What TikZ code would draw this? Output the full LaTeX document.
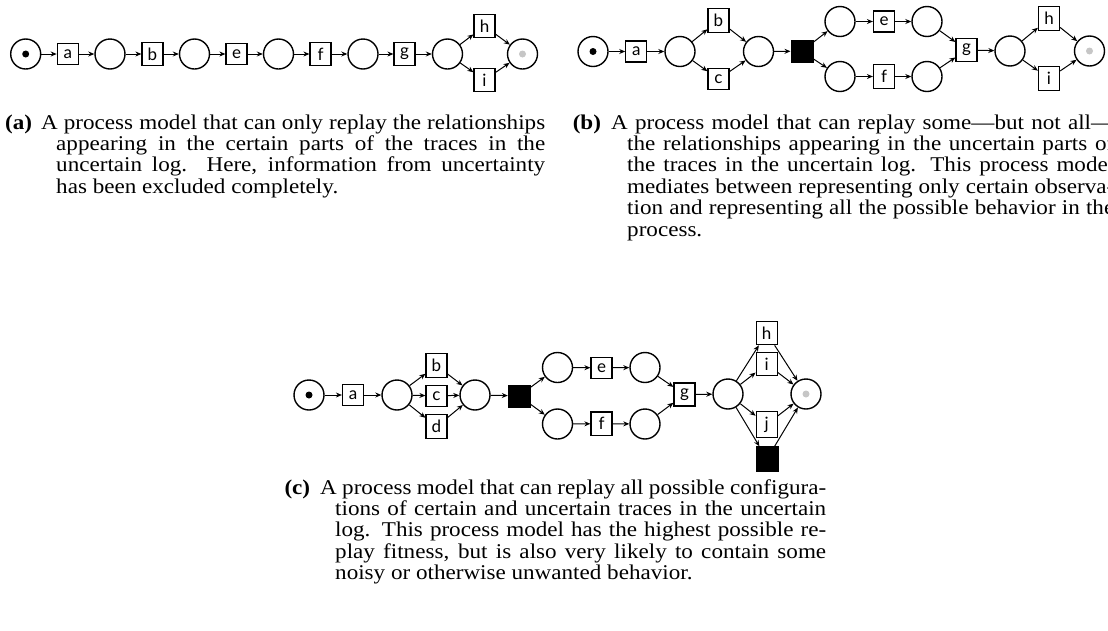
\documentclass[tikz,border=0pt]{standalone}
\usepackage{fontspec}
\setmainfont[FakeStretch=1.1]{Liberation Serif}
\setsansfont{Lato}
\usetikzlibrary{arrows.meta}

\begin{document}
\begin{tikzpicture}[x=1pt,y=-1pt,
  place/.style={circle,draw,line width=1.4pt,minimum size=30pt,inner sep=0pt},
  trans/.style={rectangle,draw,line width=1.2pt,inner sep=5.5pt,minimum size=21pt,
    font=\sffamily\fontsize{17}{17}\selectfont},
  silent/.style={rectangle,draw,fill=black,minimum size=22pt,inner sep=0pt},
  arc/.style={->,>={Stealth[length=6pt,width=5pt]},line width=1pt},
  capt/.style={anchor=base west,inner sep=0pt,text width=#1,align=justify,
    font=\fontsize{21}{21.4}\selectfont},
  captlbl/.style={anchor=base west,inner sep=0pt,font=\fontsize{21}{21.4}\selectfont\bfseries}]
  \useasboundingbox (0,0) rectangle (1108,630);
  \clip (0,0) rectangle (1108,630);

  % (a) only certain parts
  \node[place] (pa0) at (25.7,54) {};
  \node[trans] (ta) at (67.8,54) {a};
  \node[place] (pa1) at (110,54) {};
  \node[trans] (tb) at (152.5,54) {b};
  \node[place] (pa2) at (194.5,54) {};
  \node[trans] (te) at (236.5,54) {e};
  \node[place] (pa3) at (278.5,54) {};
  \node[trans] (tf) at (320.5,54) {f};
  \node[place] (pa4) at (363,54) {};
  \node[trans] (tg) at (404.5,54) {g};
  \node[place] (pa5) at (447.5,54) {};
  \node[trans] (th) at (484.5,26) {h};
  \node[trans] (ti) at (484.5,80) {i};
  \node[place] (pa6) at (522.5,54) {};
  \fill (pa0) circle (3.5pt);
  \fill[gray!45] (pa6) circle (3.5pt);
  \foreach \u/\v in {pa0/ta,ta/pa1,pa1/tb,tb/pa2,pa2/te,te/pa3,pa3/tf,tf/pa4,
                     pa4/tg,tg/pa5,pa5/th,pa5/ti,th/pa6,ti/pa6}
    \draw[arc] (\u) -- (\v);

  % (b) some of the uncertain parts
  \node[place] (pb0) at (593,51.5) {};
  \node[trans] (tba) at (636.3,51.5) {a};
  \node[place] (pb1) at (680,51.5) {};
  \node[trans] (tbb) at (718.5,20.3) {b};
  \node[trans] (tbc) at (718.5,79.2) {c};
  \node[place] (pb2) at (758.5,51.5) {};
  \node[silent] (tbs) at (801.7,51.2) {};
  \node[place] (pb3) at (840,21.5) {};
  \node[place] (pb4) at (840,76.5) {};
  \node[trans] (tbe) at (884,21.5) {e};
  \node[trans] (tbf) at (884,76.5) {f};
  \node[place] (pb5) at (927,21.5) {};
  \node[place] (pb6) at (927,76.5) {};
  \node[trans] (tbg) at (966.5,50) {g};
  \node[place] (pb7) at (1010,51) {};
  \node[trans] (tbh) at (1049,18.5) {h};
  \node[trans] (tbi) at (1049,78.5) {i};
  \node[place] (pb8) at (1089.5,51) {};
  \fill (pb0) circle (3.5pt);
  \fill[gray!45] (pb8) circle (3.5pt);
  \foreach \u/\v in {pb0/tba,tba/pb1,pb1/tbb,pb1/tbc,tbb/pb2,tbc/pb2,pb2/tbs,
                     tbs/pb3,tbs/pb4,pb3/tbe,pb4/tbf,tbe/pb5,tbf/pb6,pb5/tbg,
                     pb6/tbg,tbg/pb7,pb7/tbh,pb7/tbi,tbh/pb8,tbi/pb8}
    \draw[arc] (\u) -- (\v);

  % (c) all possible configurations
  \node[place] (pc0) at (309,395) {};
  \node[trans] (tca) at (353,395) {a};
  \node[place] (pc1) at (397,395) {};
  \node[trans] (tcb) at (436.5,365.5) {b};
  \node[trans] (tcc) at (436.5,395.8) {c};
  \node[trans] (tcd) at (436.5,426.7) {d};
  \node[place] (pc2) at (475,395) {};
  \node[silent] (tcs) at (519,395.8) {};
  \node[place] (pc3) at (557.5,367.5) {};
  \node[place] (pc4) at (557.5,424) {};
  \node[trans] (tce) at (601.5,367.8) {e};
  \node[trans] (tcf) at (601.5,423.7) {f};
  \node[place] (pc5) at (645,367.5) {};
  \node[place] (pc6) at (645,424) {};
  \node[trans] (tcg) at (684.5,394.5) {g};
  \node[place] (pc7) at (728,394) {};
  \node[trans] (tch) at (766.7,333) {h};
  \node[trans] (tci) at (766.7,364) {i};
  \node[trans] (tcj) at (766.7,424.5) {j};
  \node[silent,minimum height=25pt] (tct) at (767,459) {};
  \node[place] (pc8) at (806,394) {};
  \fill (pc0) circle (3.5pt);
  \fill[gray!45] (pc8) circle (3.5pt);
  \foreach \u/\v in {pc0/tca,tca/pc1,pc1/tcb,pc1/tcc,pc1/tcd,tcb/pc2,tcc/pc2,
                     tcd/pc2,pc2/tcs,tcs/pc3,tcs/pc4,pc3/tce,pc4/tcf,tce/pc5,
                     tcf/pc6,pc5/tcg,pc6/tcg,tcg/pc7,pc7/tch,pc7/tci,pc7/tcj,
                     pc7/tct,tch/pc8,tci/pc8,tcj/pc8,tct/pc8}
    \draw[arc] (\u) -- (\v);

  % captions
  \node[captlbl] (lbla) at (5,129) {(a)};
  \node[capt=489pt] (capa) at (56,129) {\hspace*{-15pt}A process model that can only replay the relationships\linebreak
    appearing in the certain parts of the traces in the\linebreak
    uncertain log. Here, information from uncertainty\linebreak
    has been excluded completely.};
  \node[captlbl] (lblb) at (572.6,129) {(b)};
  \node[capt=487pt] (capb) at (627,129) {\hspace*{-16pt}A process model that can replay some---but not all---\linebreak
    the relationships appearing in the uncertain parts of\linebreak
    the traces in the uncertain log. This process model\linebreak
    mediates between representing only certain observa-\linebreak
    tion and representing all the possible behavior in the\linebreak
    process.};
  \node[captlbl] (lblc) at (284.3,494) {(c)};
  \node[capt=491pt] (capc) at (335,494) {\hspace*{-15pt}A process model that can replay all possible configura-\linebreak
    tions of certain and uncertain traces in the uncertain\linebreak
    log. This process model has the highest possible re-\linebreak
    play fitness, but is also very likely to contain some\linebreak
    noisy or otherwise unwanted behavior.};
\end{tikzpicture}
\end{document}
